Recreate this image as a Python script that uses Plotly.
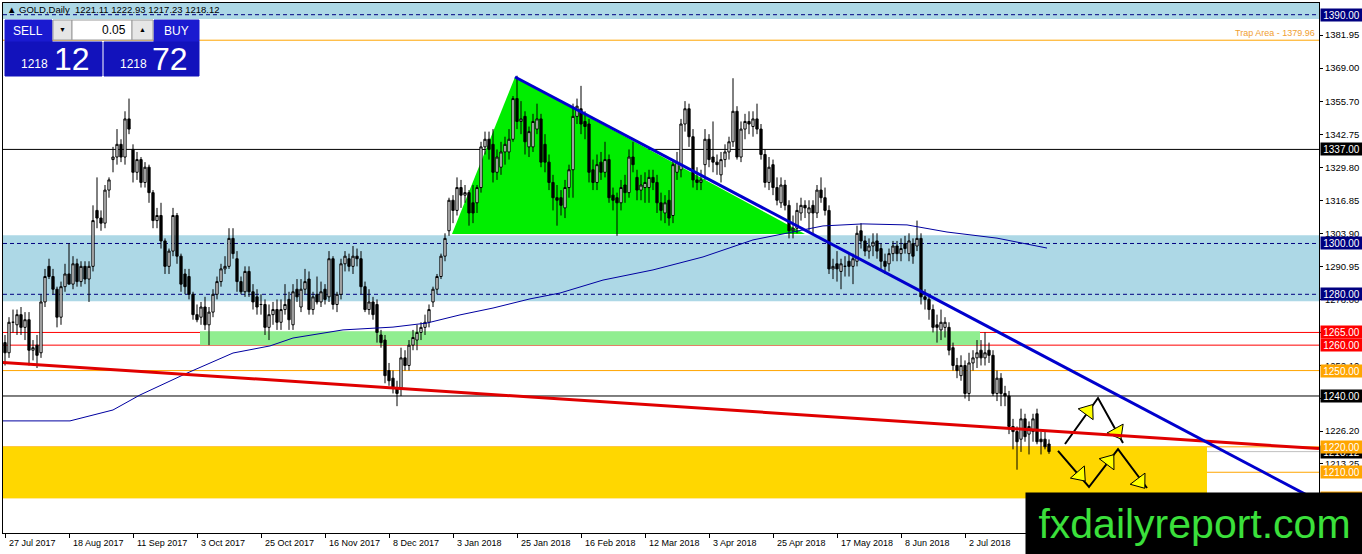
import plotly.graph_objects as go

# ---- values (GOLD, Daily) ----
date_labels = ["27 Jul 2017", "18 Aug 2017", "11 Sep 2017", "3 Oct 2017", "25 Oct 2017",
               "16 Nov 2017", "8 Dec 2017", "3 Jan 2018", "25 Jan 2018", "16 Feb 2018",
               "12 Mar 2018", "3 Apr 2018", "25 Apr 2018", "17 May 2018", "8 Jun 2018",
               "2 Jul 2018"]
label_bars = [0, 16, 32, 48, 64, 80, 96, 112, 128, 144, 160, 176, 192, 208, 224, 240]

opens = [
    1261, 1257, 1269, 1268, 1272, 1267, 1270, 1258, 1260, 1257,
    1277, 1291, 1287, 1282, 1271, 1283, 1288, 1284, 1292, 1285,
    1291, 1286, 1291, 1313, 1310, 1308, 1321, 1333, 1334, 1339,
    1334, 1349, 1337, 1328, 1333, 1324, 1330, 1320, 1309, 1311,
    1301, 1291, 1297, 1311, 1295, 1288, 1287, 1280, 1272, 1271,
    1275, 1268, 1273, 1280, 1285, 1290, 1291, 1302, 1294, 1285,
    1281, 1289, 1281, 1279, 1276, 1276, 1267, 1272, 1274, 1269,
    1274, 1278, 1268, 1282, 1275, 1282, 1286, 1274, 1280, 1277,
    1282, 1279, 1294, 1276, 1280, 1292, 1294, 1291, 1295, 1294,
    1283, 1274, 1277, 1276, 1264, 1262, 1250, 1247, 1243, 1243,
    1255, 1252, 1260, 1262, 1265, 1267, 1269, 1277, 1282, 1287,
    1295, 1305, 1317, 1313, 1322, 1319, 1320, 1316, 1316, 1322,
    1338, 1341, 1339, 1328, 1330, 1336, 1336, 1341, 1357, 1348,
    1350, 1338, 1338, 1345, 1349, 1339, 1332, 1324, 1318, 1318,
    1314, 1322, 1329, 1350, 1353, 1348, 1347, 1329, 1324, 1332,
    1328, 1333, 1319, 1318, 1316, 1323, 1320, 1334, 1326, 1321,
    1322, 1322, 1326, 1324, 1316, 1312, 1317, 1311, 1328, 1329,
    1347, 1353, 1342, 1325, 1324, 1331, 1341, 1334, 1332, 1327,
    1333, 1336, 1340, 1352, 1334, 1345, 1348, 1346, 1349, 1345,
    1335, 1324, 1331, 1322, 1316, 1323, 1315, 1305, 1306, 1312,
    1315, 1312, 1315, 1312, 1321, 1318, 1313, 1290, 1292, 1289,
    1291, 1293, 1291, 1293, 1305, 1301, 1297, 1299, 1301, 1298,
    1293, 1292, 1296, 1299, 1296, 1300, 1296, 1300, 1299, 1302,
    1279, 1278, 1274, 1268, 1266, 1267, 1267, 1259, 1252, 1248,
    1252, 1241, 1253, 1255, 1258, 1255, 1258, 1256, 1241, 1247,
    1241, 1240, 1228, 1226, 1223, 1231, 1225, 1226, 1233, 1223,
    1223, 1221.11]

highs = [
    1264, 1271, 1274, 1274, 1275, 1273, 1273, 1262, 1264, 1280,
    1290, 1294, 1290, 1283, 1285, 1292, 1300, 1295, 1294, 1293,
    1293, 1293, 1315, 1326, 1313, 1323, 1326, 1338, 1345, 1341,
    1352, 1357, 1339, 1336, 1334, 1332, 1331, 1321, 1314, 1316,
    1302, 1298, 1314, 1312, 1296, 1290, 1290, 1281, 1276, 1277,
    1279, 1275, 1282, 1287, 1292, 1295, 1306, 1306, 1297, 1287,
    1291, 1291, 1284, 1282, 1280, 1278, 1276, 1277, 1278, 1278,
    1284, 1281, 1284, 1286, 1286, 1290, 1289, 1281, 1287, 1285,
    1284, 1297, 1295, 1281, 1294, 1297, 1296, 1299, 1298, 1297,
    1285, 1282, 1279, 1278, 1266, 1264, 1253, 1250, 1246, 1259,
    1258, 1262, 1266, 1268, 1269, 1272, 1276, 1283, 1288, 1296,
    1304, 1318, 1319, 1326, 1325, 1323, 1321, 1323, 1323, 1340,
    1344, 1344, 1345, 1337, 1340, 1342, 1345, 1358, 1366, 1356,
    1352, 1346, 1351, 1355, 1351, 1343, 1335, 1327, 1323, 1321,
    1325, 1331, 1355, 1357, 1362, 1352, 1349, 1333, 1335, 1336,
    1340, 1335, 1322, 1320, 1325, 1327, 1337, 1340, 1329, 1327,
    1328, 1329, 1329, 1327, 1320, 1319, 1321, 1333, 1336, 1349,
    1356, 1355, 1345, 1330, 1329, 1345, 1343, 1348, 1335, 1336,
    1339, 1342, 1365, 1354, 1348, 1351, 1352, 1352, 1355, 1347,
    1337, 1334, 1333, 1326, 1326, 1325, 1317, 1311, 1316, 1318,
    1317, 1317, 1317, 1323, 1326, 1322, 1315, 1294, 1297, 1294,
    1295, 1296, 1296, 1307, 1308, 1303, 1302, 1304, 1304, 1300,
    1296, 1298, 1301, 1301, 1302, 1303, 1304, 1302, 1309, 1304,
    1282, 1280, 1276, 1272, 1274, 1271, 1269, 1261, 1255, 1256,
    1254, 1257, 1258, 1262, 1262, 1265, 1261, 1258, 1250, 1249,
    1244, 1242, 1231, 1228, 1235, 1233, 1230, 1233, 1235, 1226,
    1226, 1222.93]

lows = [
    1252, 1255, 1265, 1264, 1264, 1262, 1252, 1254, 1251, 1255,
    1275, 1286, 1280, 1267, 1268, 1281, 1284, 1282, 1283, 1283,
    1284, 1277, 1289, 1306, 1305, 1306, 1318, 1328, 1331, 1332,
    1331, 1343, 1324, 1325, 1322, 1322, 1316, 1306, 1306, 1298,
    1288, 1288, 1295, 1292, 1281, 1280, 1278, 1270, 1269, 1268,
    1266, 1260, 1271, 1278, 1283, 1288, 1290, 1294, 1281, 1280,
    1279, 1279, 1274, 1272, 1272, 1264, 1262, 1268, 1266, 1266,
    1272, 1266, 1266, 1277, 1273, 1280, 1272, 1272, 1276, 1275,
    1276, 1277, 1274, 1273, 1278, 1289, 1289, 1288, 1291, 1280,
    1273, 1272, 1270, 1261, 1259, 1245, 1244, 1241, 1236, 1240,
    1250, 1250, 1258, 1258, 1262, 1264, 1267, 1275, 1280, 1286,
    1293, 1303, 1308, 1311, 1314, 1316, 1307, 1308, 1312, 1320,
    1335, 1333, 1324, 1325, 1327, 1331, 1333, 1340, 1345, 1343,
    1335, 1334, 1336, 1343, 1330, 1328, 1321, 1313, 1307, 1311,
    1310, 1318, 1318, 1347, 1343, 1341, 1324, 1321, 1321, 1325,
    1326, 1316, 1313, 1303, 1313, 1316, 1318, 1328, 1317, 1317,
    1316, 1316, 1321, 1312, 1309, 1308, 1307, 1308, 1325, 1326,
    1344, 1338, 1322, 1321, 1321, 1325, 1330, 1328, 1327, 1324,
    1330, 1333, 1338, 1333, 1332, 1341, 1343, 1342, 1343, 1333,
    1322, 1321, 1319, 1315, 1314, 1313, 1302, 1302, 1304, 1309,
    1310, 1305, 1304, 1310, 1316, 1311, 1288, 1286, 1285, 1282,
    1287, 1287, 1284, 1291, 1298, 1295, 1294, 1295, 1294, 1290,
    1288, 1289, 1293, 1293, 1293, 1296, 1293, 1292, 1297, 1276,
    1274, 1270, 1265, 1261, 1262, 1263, 1256, 1250, 1247, 1246,
    1239, 1238, 1250, 1251, 1252, 1252, 1253, 1240, 1238, 1236,
    1236, 1225, 1219, 1211, 1218, 1222, 1217, 1222, 1221, 1217,
    1219, 1217.23]

closes = [
    1257, 1269, 1269, 1272, 1267, 1270, 1258, 1259, 1256, 1277,
    1287, 1287, 1282, 1271, 1283, 1288, 1284, 1292, 1285, 1291,
    1286, 1291, 1309, 1310, 1308, 1321, 1325, 1334, 1339, 1334,
    1349, 1345, 1328, 1333, 1324, 1330, 1320, 1309, 1311, 1301,
    1291, 1297, 1311, 1295, 1284, 1283, 1280, 1272, 1270, 1275,
    1268, 1273, 1280, 1285, 1290, 1291, 1302, 1296, 1285, 1281,
    1289, 1281, 1277, 1275, 1276, 1267, 1272, 1274, 1269, 1274,
    1276, 1270, 1281, 1279, 1282, 1285, 1274, 1279, 1277, 1281,
    1278, 1294, 1276, 1280, 1292, 1295, 1291, 1295, 1294, 1283,
    1274, 1277, 1272, 1265, 1261, 1248, 1246, 1243, 1241, 1255,
    1252, 1260, 1263, 1265, 1267, 1269, 1274, 1282, 1287, 1295,
    1302, 1317, 1313, 1322, 1319, 1320, 1312, 1312, 1322, 1338,
    1341, 1337, 1328, 1334, 1336, 1339, 1341, 1357, 1348, 1349,
    1340, 1344, 1348, 1349, 1332, 1332, 1324, 1318, 1317, 1315,
    1322, 1329, 1350, 1354, 1347, 1346, 1328, 1324, 1331, 1328,
    1333, 1318, 1317, 1316, 1322, 1320, 1334, 1331, 1321, 1323,
    1324, 1326, 1324, 1316, 1313, 1316, 1310, 1331, 1332, 1347,
    1353, 1342, 1325, 1324, 1325, 1341, 1333, 1332, 1331, 1333,
    1336, 1340, 1352, 1334, 1345, 1348, 1347, 1349, 1345, 1335,
    1324, 1330, 1322, 1317, 1323, 1315, 1305, 1306, 1313, 1315,
    1314, 1314, 1312, 1321, 1318, 1313, 1290, 1291, 1290, 1292,
    1291, 1291, 1294, 1304, 1301, 1297, 1299, 1300.5, 1297, 1293,
    1291, 1296, 1299, 1296, 1298, 1298, 1301, 1295, 1302, 1279,
    1278, 1274, 1267, 1267, 1269, 1269, 1258, 1252, 1250, 1252,
    1241, 1253, 1255, 1257, 1255, 1257, 1256, 1241, 1247, 1241,
    1240, 1228, 1226, 1222, 1231, 1224, 1228, 1231, 1222, 1222,
    1220, 1218.12]

# moving average (thin navy line) sampled along the chart
ma_bars = [-0.5, 16.25, 27, 33.75, 45.5, 57, 66.25, 72, 84.5, 97, 105.5, 113.75, 122,
           131.25, 138.75, 149.5, 162, 174.5, 187, 195.5, 204.5, 214.5, 225.5, 235.5,
           248, 260.5]
ma_values = [1230.2, 1230.2, 1234.5, 1240.4, 1249.0, 1256.9, 1259.7, 1262.8, 1266.0,
             1267.1, 1268.7, 1271.9, 1274.6, 1278.2, 1280.5, 1285.6, 1289.6, 1294.7,
             1301.4, 1304.1, 1306.9, 1307.7, 1307.3, 1304.5, 1302.1, 1298.2]

# right price scale
tick_values = [1381.95, 1369.00, 1355.70, 1342.75, 1329.80, 1316.85, 1303.90, 1290.95,
               1278.00, 1265.05, 1252.10, 1239.15, 1226.20, 1213.25, 1200.30]
tick_texts = ["1381.95", "1369.00", "1355.70", "1342.75", "1329.80", "1316.85", "1303.90",
              "1290.95", "1278.00", "1265.05", "1252.10", "1239.15", "1226.20", "1213.25",
              "1200.30"]

# horizontal levels: (price, colour, dash)
levels = [(1390.00, "#000080", "4px,3px"), (1379.96, "#ffa500", "solid"),
          (1337.00, "#000000", "solid"), (1300.00, "#000080", "4px,3px"),
          (1280.00, "#000080", "4px,3px"), (1265.00, "#ff0000", "solid"),
          (1260.00, "#ff0000", "solid"), (1250.00, "#ffa500", "solid"),
          (1240.00, "#000000", "solid"), (1220.00, "#ffa500", "solid"),
          (1210.00, "#ffa500", "solid"), (1200.00, "#ffa500", "solid"),
          (1218.12, "#c0c0c0", "solid")]
# price boxes on the scale: (price, text, background)
price_boxes = [(1390.00, "1390.00", "#000080"), (1337.00, "1337.00", "#000000"),
               (1300.00, "1300.00", "#000080"), (1280.00, "1280.00", "#000080"),
               (1265.00, "1265.00", "#ff0000"), (1260.00, "1260.00", "#ff0000"),
               (1250.00, "1250.00", "#ffa500"), (1240.00, "1240.00", "#000000"),
               (1218.12, "1218.12", "#000000"), (1220.00, "1220.00", "#ffa500"),
               (1210.00, "1210.00", "#ffa500"), (1200.00, "1200.00", "#ffa500")]

# drawn objects (bar index, price)
triangle = [(111.75, 1303.7), (127.5, 1365.5), (200.0, 1303.7)]
blue_trend = [(127.5, 1365.5), (328.5, 1198.5)]
red_trend = [(-0.5, 1253.2), (328.5, 1219.3)]
path_up = [(265, 1221.1), (273.25, 1239.2), (279.5, 1221.5)]
path_down = [(263.25, 1218.4), (271, 1204.2), (278.25, 1219.1), (285.5, 1203.8)]
heads = [(270.75, 1234.1, 36), (278, 1225.8, 151), (268.75, 1208.9, 139),
         (276, 1214.4, 37), (283.75, 1206.2, 143)]

bars = list(range(len(closes)))

# pixel helpers for the window furniture (plot box is x 3..1319, y 3..533)
def fx(px):
    return (px - 3) / 1316


def fy(py):
    return (533 - py) / 530


FONT = "Liberation Sans"

fig = go.Figure()

fig.add_trace(go.Candlestick(
    x=bars, open=opens, high=highs, low=lows, close=closes,
    increasing=dict(line=dict(color="black", width=1), fillcolor="white"),
    decreasing=dict(line=dict(color="black", width=1), fillcolor="black"),
    whiskerwidth=0, showlegend=False, hoverinfo="skip"))

fig.add_trace(go.Scatter(x=ma_bars, y=ma_values, mode="lines",
                         line=dict(color="#0000a0", width=1), showlegend=False,
                         hoverinfo="skip"))

for path in (path_up, path_down):
    fig.add_trace(go.Scatter(x=[p[0] for p in path], y=[p[1] for p in path], mode="lines",
                             line=dict(color="black", width=2), showlegend=False,
                             hoverinfo="skip"))
fig.add_trace(go.Scatter(
    x=[h[0] for h in heads], y=[h[1] for h in heads], mode="markers",
    marker=dict(symbol="triangle-up", size=16, color="#ffff00", angle=[h[2] for h in heads],
                line=dict(color="black", width=1)),
    showlegend=False, hoverinfo="skip"))

shapes = []
# coloured zones
shapes.append(dict(type="rect", xref="paper", yref="y", x0=0, x1=1, y0=1388.3, y1=1396,
                   fillcolor="#add8e6", line=dict(width=0), layer="below"))
shapes.append(dict(type="rect", xref="paper", yref="y", x0=0, x1=1, y0=1277.3, y1=1303.2,
                   fillcolor="#add8e6", line=dict(width=0), layer="below"))
tri_path = "M {} {} L {} {} L {} {} Z".format(*[v for pt in triangle for v in pt])
shapes.append(dict(type="path", xref="x", yref="y", path=tri_path, fillcolor="#00ee00",
                   line=dict(width=0), layer="below"))
shapes.append(dict(type="rect", xref="x", yref="y", x0=48.75, x1=243.75, y0=1260, y1=1265.5,
                   fillcolor="#90ee90", line=dict(width=0), layer="below"))
shapes.append(dict(type="rect", xref="x", yref="y", x0=-0.5, x1=300.5, y0=1199.8, y1=1220,
                   fillcolor="#ffd700", line=dict(width=0), layer="below"))
for price, col, dash in levels:
    shapes.append(dict(type="line", xref="paper", yref="y", x0=0, x1=1, y0=price, y1=price,
                       line=dict(color=col, width=1, dash=dash), layer="below"))
for (x0, y0), (x1, y1), col in ((red_trend[0], red_trend[1], "#e00000"),
                                (blue_trend[0], blue_trend[1], "#0000cd")):
    shapes.append(dict(type="line", xref="x", yref="y", x0=x0, y0=y0, x1=x1, y1=y1,
                       line=dict(color=col, width=3), layer="above"))

# trade panel
panel_rects = [((5, 20, 52, 42), "#1a1ad0", None), ((154, 20, 199, 42), "#1a1ad0", None),
               ((53, 20, 72, 40), "#e6e6e6", "#9a9a9a"), ((72, 20, 132, 40), "#ffffff", "#9a9a9a"),
               ((132, 20, 153, 40), "#e6e6e6", "#9a9a9a"),
               ((5, 42, 102, 76), "#1212bc", None), ((104, 42, 199, 76), "#1212bc", None)]
for (x0, y0, x1, y1), fill, edge in panel_rects:
    shapes.append(dict(type="rect", xref="paper", yref="paper", x0=fx(x0), x1=fx(x1),
                       y0=fy(y1), y1=fy(y0), fillcolor=fill,
                       line=dict(color=edge or fill, width=1), layer="above"))

annotations = []
for lab, b in zip(date_labels, label_bars):
    annotations.append(dict(x=b, y=0, xref="x", yref="paper", text=lab, showarrow=False,
                            xanchor="left", yanchor="top", xshift=2, yshift=-3,
                            font=dict(family=FONT, size=9, color="black")))
for price, txt, bg in price_boxes:
    annotations.append(dict(x=1, y=price, xref="paper", yref="y", text=txt, showarrow=False,
                            xanchor="left", yanchor="middle", xshift=1, bgcolor=bg,
                            width=41, height=12, borderpad=0,
                            font=dict(family=FONT, size=10, color="white")))
annotations.append(dict(x=fx(1317), y=1379.96, xref="paper", yref="y", showarrow=False,
                        text="Trap Area - 1379.96", xanchor="right", yanchor="bottom",
                        font=dict(family=FONT, size=9, color="#f0a030")))
annotations.append(dict(x=fx(5), y=fy(10), xref="paper", yref="paper", showarrow=False,
                        text="\u25b2 GOLD,Daily  1221.11 1222.93 1217.23 1218.12",
                        xanchor="left", yanchor="middle",
                        font=dict(family=FONT, size=9.5, color="black")))
panel_texts = [(28, 31, "SELL", 12, "white", "center"), (176, 31, "BUY", 12, "white", "center"),
               (128, 30, "0.05", 12, "black", "right"), (62, 30, "\u25bc", 7, "black", "center"),
               (142, 30, "\u25b2", 7, "black", "center"),
               (34, 64, "1218", 12, "white", "center"), (72, 59, "12", 32, "white", "center"),
               (133, 64, "1218", 12, "white", "center"), (170, 59, "72", 32, "white", "center")]
for px, py, txt, size, col, anchor in panel_texts:
    annotations.append(dict(x=fx(px), y=fy(py), xref="paper", yref="paper", text=txt,
                            showarrow=False, xanchor=anchor, yanchor="middle",
                            font=dict(family=FONT, size=size, color=col)))
# site logo
annotations.append(dict(x=fx(1194.5), y=fy(524), xref="paper", yref="paper",
                        text="fxdailyreport.com", showarrow=False, xanchor="center",
                        yanchor="middle", bgcolor="black", width=335, height=60,
                        font=dict(family=FONT, size=41, color="#3be03b")))

fig.update_layout(
    width=1362, height=554,
    margin=dict(l=3, r=43, t=3, b=21),
    paper_bgcolor="white", plot_bgcolor="white",
    shapes=shapes, annotations=annotations,
    hovermode=False, showlegend=False, boxgap=0.2,
    xaxis=dict(range=[-0.5, 328.5], rangeslider=dict(visible=False), showgrid=False,
               zeroline=False, tickvals=label_bars, ticktext=[""] * len(label_bars),
               ticks="outside", ticklen=4, tickcolor="black", showline=True,
               linecolor="black", linewidth=1, mirror=True),
    yaxis=dict(range=[1186.1, 1394.6], side="right", showgrid=False, zeroline=False,
               tickvals=tick_values, ticktext=tick_texts, ticks="outside", ticklen=3,
               tickcolor="black", showline=True, linecolor="black", linewidth=1,
               mirror=True, tickfont=dict(family=FONT, size=9.5, color="black")),
)

fig.write_html("out.html", config={"displayModeBar": False},
               post_script="document.body.style.margin='0';")
